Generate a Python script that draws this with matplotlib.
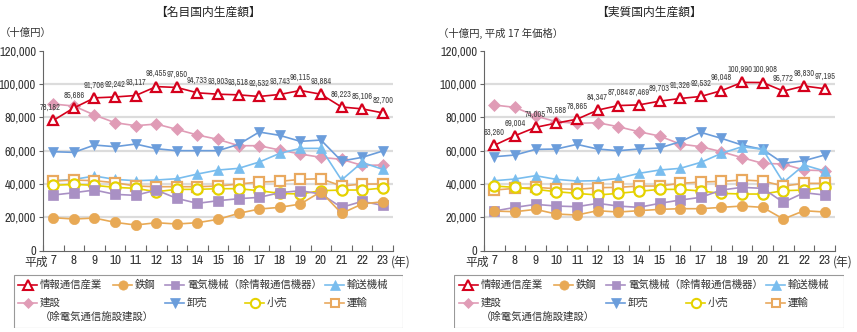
import numpy as np
import matplotlib.pyplot as plt
from matplotlib.lines import Line2D
from matplotlib.patches import Rectangle

plt.rcParams['font.family'] = ['Noto Sans CJK JP', 'DejaVu Sans']
NUM_FONT = ['Archivo Narrow', 'DejaVu Sans']

years = ['7', '8', '9', '10', '11', '12', '13', '14', '15', '16',
         '17', '18', '19', '20', '21', '22', '23']

# 名目国内生産額 (十億円)
nom_info = [78182, 85686, 91706, 92242, 93117, 98455, 97950, 94733, 93903,
            93518, 92532, 93743, 96115, 93884, 86223, 85106, 82700]
nom_steel = [19800, 19000, 19600, 17000, 15400, 16800, 16000, 16800, 18800,
             22400, 25000, 26000, 28000, 35400, 22400, 28000, 29400]
nom_elec = [33400, 34800, 36400, 33800, 33200, 36400, 31400, 28400, 30000,
            31200, 32000, 34800, 36000, 34000, 26000, 29600, 27200]
nom_trans = [42000, 42800, 44800, 42800, 42000, 42400, 43200, 46000, 48400,
             49400, 53200, 58400, 61400, 61400, 42400, 53000, 48800]
nom_const = [88000, 86800, 81400, 76800, 75000, 76000, 72800, 69400, 66800,
             63000, 63000, 60400, 58000, 56000, 54800, 51200, 51400]
nom_whole = [59400, 59000, 63400, 62400, 64000, 61200, 60000, 60000, 60000,
             63800, 71200, 69200, 65600, 66400, 53800, 56000, 59800]
nom_retail = [39200, 39800, 39200, 38000, 37400, 35400, 36800, 36800, 37200,
              37200, 36000, 34400, 34000, 36000, 36400, 36400, 37600]
nom_transport = [41800, 42400, 42000, 40800, 38800, 38400, 38400, 38400, 38800,
                 40000, 41200, 41600, 42800, 43200, 38800, 40000, 40000]

# 実質国内生産額 (十億円, 平成17年価格)
real_info = [63260, 69004, 74005, 76588, 78865, 84347, 87084, 87469, 89703,
             91326, 92532, 96048, 100990, 100908, 95772, 98830, 97195]
real_steel = [23800, 23400, 24800, 22000, 21400, 24000, 23200, 24000, 24800,
              25200, 25200, 26000, 26800, 26000, 19000, 24000, 23200]
real_elec = [23800, 26000, 27800, 26800, 26400, 28400, 26800, 26000, 28400,
             30400, 32000, 36400, 38000, 37400, 29000, 34800, 33400]
real_trans = [42000, 43000, 45000, 42800, 41800, 42000, 43400, 46400, 48400,
              49400, 53000, 58400, 62400, 60800, 41000, 51400, 47800]
real_const = [87400, 86000, 80800, 77400, 76400, 76800, 74400, 71400, 68800,
              64000, 62400, 59400, 55800, 52400, 52000, 48400, 48000]
real_whole = [56400, 57400, 60800, 61000, 63800, 61000, 60000, 61000, 61600,
              65400, 71000, 67400, 63400, 60800, 52400, 54000, 57400]
real_retail = [38800, 38000, 36800, 35400, 34400, 33400, 34400, 35600, 36800,
               36800, 35800, 34400, 34000, 34000, 36000, 36400, 38000]
real_transport = [36400, 37400, 38000, 37200, 36800, 37800, 38000, 38800, 38800,
                  40400, 41200, 41600, 42400, 41800, 38800, 40400, 40400]

# label, color, marker, filled
styles = {
    'info': ('情報通信産業', '#d5001c', '^', False),
    'steel': ('鉄鋼', '#e8a955', 'o', True),
    'elec': ('電気機械（除情報通信機器）', '#a990c4', 's', True),
    'trans': ('輸送機械', '#79bdee', '^', True),
    'const': ('建設', '#e09cb6', 'D', True),
    'whole': ('卸売', '#6b9ddb', 'v', True),
    'retail': ('小売', '#e5d200', 'o', False),
    'transport': ('運輸', '#e9a95f', 's', False),
}

nom = {'const': nom_const, 'whole': nom_whole, 'trans': nom_trans,
       'transport': nom_transport, 'retail': nom_retail, 'elec': nom_elec,
       'steel': nom_steel, 'info': nom_info}
real = {'const': real_const, 'whole': real_whole, 'trans': real_trans,
        'transport': real_transport, 'retail': real_retail, 'elec': real_elec,
        'steel': real_steel, 'info': real_info}

W, H = 857, 332
fig = plt.figure(figsize=(W / 100, H / 100), dpi=100)

msize = {'^': 7.8, 'v': 7.8, 'o': 7.4, 's': 6.6, 'D': 6.2}


def draw_series(ax, key, vals, lw=1.2):
    label, color, marker, filled = styles[key]
    x = np.arange(len(vals))
    face = color if filled else 'white'
    mew = 1.6 if not filled else 0.5
    z = 5 if key == 'info' else 3
    ax.plot(x, vals, color=color, lw=lw, marker=marker, ms=msize[marker],
            mfc=face, mec=color, mew=mew, zorder=z, clip_on=False)


def setup_axes(rect, data, title, unit, unit_x, label_offsets):
    ax = fig.add_axes(rect)
    n = len(years)
    for key in data:
        draw_series(ax, key, data[key])
    for i, v in enumerate(data['info']):
        dx, dy = label_offsets.get(i, (0, 6))
        ax.annotate(f'{v:,}', (i, v), xytext=(dx, dy), textcoords='offset points',
                    ha='center', va='bottom', fontsize=6, color='#444444',
                    family=NUM_FONT, zorder=6)
    ax.set_xlim(-0.5, n - 0.5)
    ax.set_ylim(0, 120000)
    for g in range(20000, 120000, 20000):
        ax.axhline(g, color='#dcdcdc', lw=1.6, zorder=1)
    ax.set_yticks(range(0, 120001, 20000))
    ax.set_yticklabels([f'{v:,}' for v in range(0, 120001, 20000)],
                       family=NUM_FONT)
    ax.tick_params(axis='y', direction='out', length=3, width=0.8,
                   color='#666666', labelsize=9, labelcolor='#333333', pad=2)
    ax.set_xticks(np.arange(n))
    ax.set_xticklabels(years, family=NUM_FONT)
    ax.set_xticks(np.arange(-0.5, n, 1.0), minor=True)
    ax.tick_params(axis='x', which='major', length=0, labelsize=9.5,
                   labelcolor='#333333', pad=3)
    ax.tick_params(axis='x', which='minor', direction='in', length=4,
                   width=0.8, color='#666666')
    for s in ('top', 'right'):
        ax.spines[s].set_visible(False)
    for s in ('left', 'bottom'):
        ax.spines[s].set_color('#666666')
        ax.spines[s].set_linewidth(0.8)
    # era prefix before the first year and unit after the last one
    ax.annotate('平成', (0, 0), xytext=(-4, -3.5), textcoords='offset points',
                xycoords=('data', 'axes fraction'), ha='right', va='top',
                fontsize=8.5, color='#333333')
    ax.annotate('(年)', (n - 1, 0), xytext=(6, -3.5), textcoords='offset points',
                xycoords=('data', 'axes fraction'), ha='left', va='top',
                fontsize=8.5, color='#333333')
    x0, w = rect[0], rect[2]
    fig.text(x0 + w / 2 - 10 / W, 1 - 12 / H, title, ha='center', va='center',
             fontsize=8.5, color='#222222')
    fig.text(unit_x / W, 1 - 33 / H, unit, ha='left', va='center',
             fontsize=7.5, color='#333333')
    return ax


setup_axes([43 / W, 81.3 / H, 350 / W, 200 / H], nom, '【名目国内生産額】',
           '（十億円）', 0, {0: (-2, 6)})
setup_axes([484 / W, 81.3 / H, 351 / W, 200 / H], real, '【実質国内生産額】',
           '（十億円, 平成 17 年価格）', 438, {12: (-1.5, 6), 13: (1.5, 6)})


def draw_legend(left):
    top, bw, bh = 274, 390, 54
    lax = fig.add_axes([left / W, 1 - (top + bh) / H, bw / W, bh / H])
    lax.set_xlim(0, bw)
    lax.set_ylim(bh, 0)
    lax.axis('off')
    lax.add_patch(Rectangle((0.5, 0.5), bw - 1, bh - 1, fill=False,
                            ec='#999999', lw=0.8))
    entries = [('info', 5, 11), ('steel', 100, 11), ('elec', 152, 11),
               ('trans', 312, 11), ('const', 5, 29), ('whole', 152, 29),
               ('retail', 232, 29), ('transport', 312, 29)]
    for key, hx, hy in entries:
        label, color, marker, filled = styles[key]
        face = color if filled else 'white'
        lax.add_line(Line2D([hx, hx + 19], [hy, hy], color=color, lw=1.2))
        lax.plot(hx + 9.5, hy, marker=marker, ms=msize[marker] * 0.9,
                 mfc=face, mec=color, mew=1.5 if not filled else 0.5,
                 color=color)
        lax.text(hx + 22, hy, label, ha='left', va='center', fontsize=7.5,
                 color='#333333')
    lax.text(27, 43, '（除電気通信施設建設）', ha='left', va='center',
             fontsize=7.5, color='#333333')


draw_legend(13)
draw_legend(454)

fig.savefig('out.png', dpi=100)
